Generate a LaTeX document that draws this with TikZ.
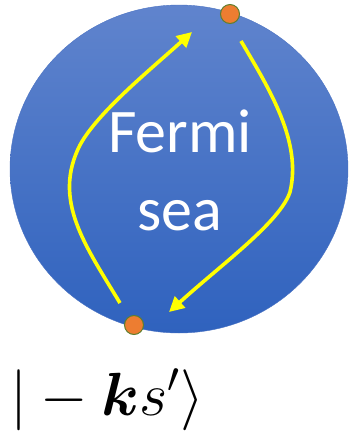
\RequirePackage{fix-cm}
\documentclass[tikz,border=0pt]{standalone}
\usepackage{amsmath}
\usepackage{fontspec}
\newfontfamily\seafont{Carlito}
\usetikzlibrary{arrows.meta,positioning,shapes.geometric}
\definecolor{seatop}{HTML}{6084CD}
\definecolor{seabottom}{HTML}{2F62BE}
\definecolor{seaedge}{HTML}{4A72C2}
\definecolor{dotorange}{HTML}{ED7D31}
\definecolor{dotrim}{HTML}{5E7F2E}
\definecolor{pathyellow}{HTML}{FFFF00}

\begin{document}
\begin{tikzpicture}[
        x=1pt,y=-1pt,
        hop/.style={-{Triangle[length=15pt,width=15pt]},line width=3.6pt,draw=pathyellow},
        state/.style={circle,minimum size=19pt,inner sep=0pt,line width=1pt,
          fill=dotorange,draw=dotrim}
      ]
        \useasboundingbox (0,0) rectangle (354,432);
        \node[ellipse,minimum width=338pt,minimum height=328pt,inner sep=0pt,
          top color=seatop,bottom color=seabottom,draw=seaedge,line width=.4pt]
          (sea) at (179,169) {};
        \node[align=center,text=white,font=\seafont\fontsize{62}{78}\selectfont]
          (label) at (180,170) {Fermi\\sea};

        \coordinate (upstart) at (120,303);
        \coordinate (uptip) at (192,32);
        \coordinate (downstart) at (241,41);
        \coordinate (downtip) at (169,312);
        \draw[hop] (upstart) .. controls (85,245) and (52,200) .. (80,145)
          .. controls (98,112) and (150,70) .. (uptip);
        \draw[hop] (downstart) .. controls (270,90) and (302,142) .. (290,192)
          .. controls (280,222) and (222,264) .. (downtip);

        \node[state] (ktop) at (230,14) {};
        \node[state] (kbottom) at (134,325) {};

        \node[anchor=base west,inner sep=0pt,font=\fontsize{61}{64}\selectfont]
          (ket) at (10,415) {$|-\boldsymbol{k}s'\rangle$};
      \end{tikzpicture}
\end{document}
